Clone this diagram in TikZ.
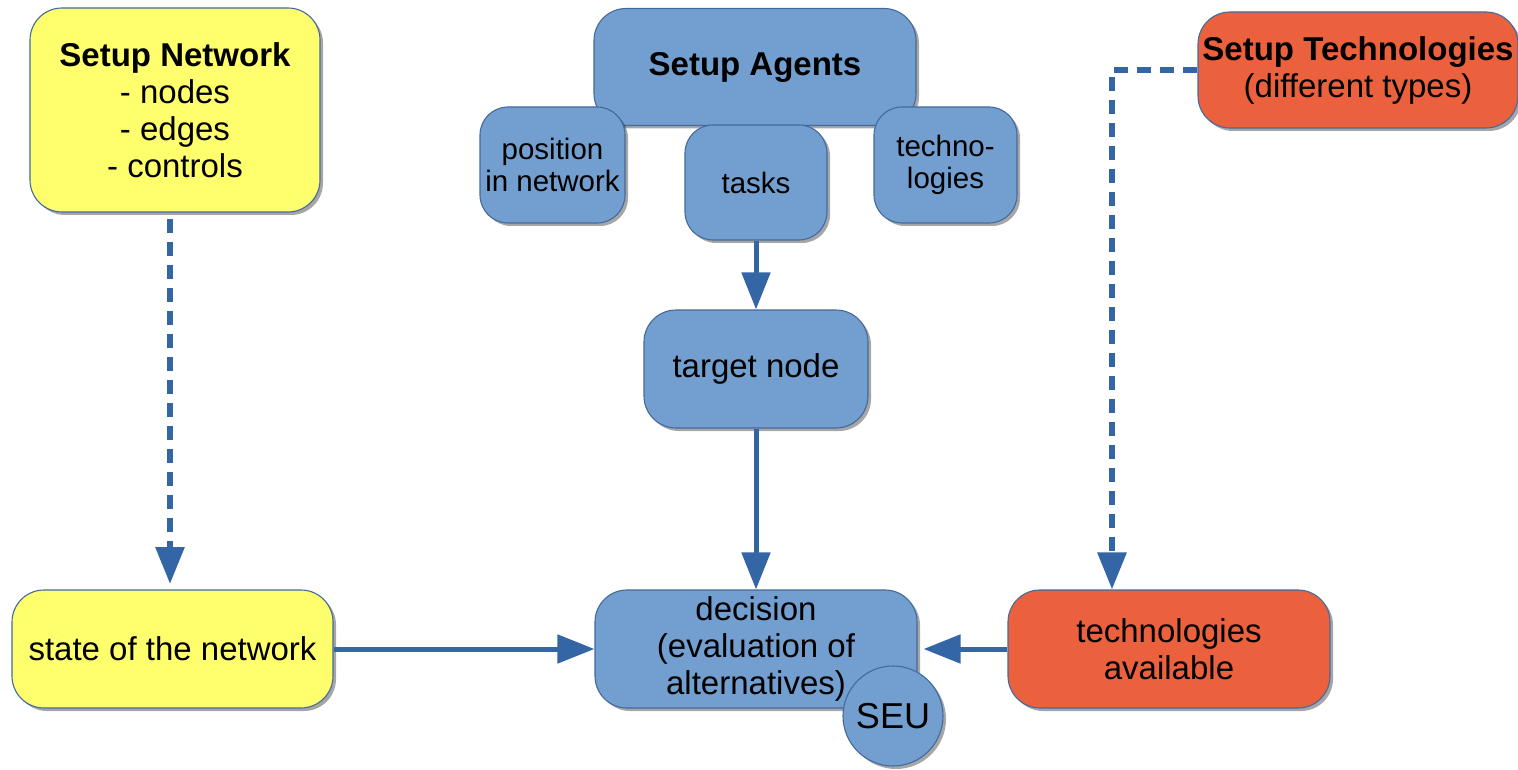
\documentclass[tikz,border=0pt]{standalone}
\usepackage{fontspec}
\setmainfont{Liberation Sans}
\usetikzlibrary{arrows.meta,shadows,calc}
\definecolor{yel}{HTML}{FFFF6D}
\definecolor{blu}{HTML}{729FCF}
\definecolor{org}{HTML}{EB613D}
\definecolor{edge}{HTML}{3465A4}
\definecolor{arr}{HTML}{3465A4}
\tikzset{
  box/.style={draw=edge!80!gray, line width=1.1pt, rounded corners=32pt, align=center,
    font=\fontsize{33}{37}\selectfont, inner sep=0pt,
    drop shadow={shadow xshift=3pt, shadow yshift=-3pt, fill=black, opacity=0.35}},
  small/.style={font=\fontsize{29.5}{32}\selectfont, rounded corners=28pt},
  yb/.style={box, fill=yel},
  bb/.style={box, fill=blu},
  ob/.style={box, fill=org},
  arrow/.style={draw=arr, line width=5pt, -{Triangle[length=37pt,width=28pt]}},
  dasharrow/.style={arrow, line width=6pt, dash pattern=on 14pt off 9pt},
}
\begin{document}
\begin{tikzpicture}[x=1pt,y=-1pt]
\useasboundingbox (0,0) rectangle (1518,770);
% left column
\node[yb, minimum width=290pt, minimum height=204pt] (sn) at (175,110)
  {\textbf{Setup Network}\\- nodes\\- edges\\- controls};
\node[yb, minimum width=321pt, minimum height=118pt] (state) at (172.5,649)
  {state of the network};
% centre column
\node[bb, minimum width=322pt, minimum height=117pt] (sa) at (755,67)
  {\textbf{Setup Agents}};
\node[bb, small, minimum width=145pt, minimum height=116pt] (pos) at (552.5,165)
  {position\\in network};
\node[bb, small, minimum width=142pt, minimum height=115pt] (tasks) at (756,182.5)
  {tasks};
\node[bb, small, minimum width=143pt, minimum height=116pt] (tech) at (945.5,165)
  {techno-\\logies};
\node[bb, minimum width=224pt, minimum height=118pt] (target) at (756,369)
  {target node};
\node[bb, minimum width=322pt, minimum height=118pt] (dec) at (756,649)
  {decision\\(evaluation of\\alternatives)};
\node[bb, circle, minimum size=100pt, font=\fontsize{36}{40}\selectfont] (seu) at (893,716) {SEU};
% right column
\node[ob, minimum width=320pt, minimum height=116pt] (st) at (1358,70)
  {\textbf{Setup Technologies}\\(different types)};
\node[ob, minimum width=322pt, minimum height=118pt] (ta) at (1169,649)
  {technologies\\available};
% connectors
\coordinate (bend) at (1112,70);
\coordinate (snend) at (170,584);
\draw[dasharrow] ($(sn.south -| snend)+(0,6)$) -- (snend);
\draw[dasharrow] (st.west) -- (bend) -- (bend |- ta.north);
\draw[arrow] (tasks.south) -- (target.north);
\draw[arrow] (target.south) -- (dec.north);
\draw[arrow] (state.east) -- (dec.west);
\draw[arrow] (ta.west) -- ($(dec.east)+(6,0)$);
\end{tikzpicture}
\end{document}
